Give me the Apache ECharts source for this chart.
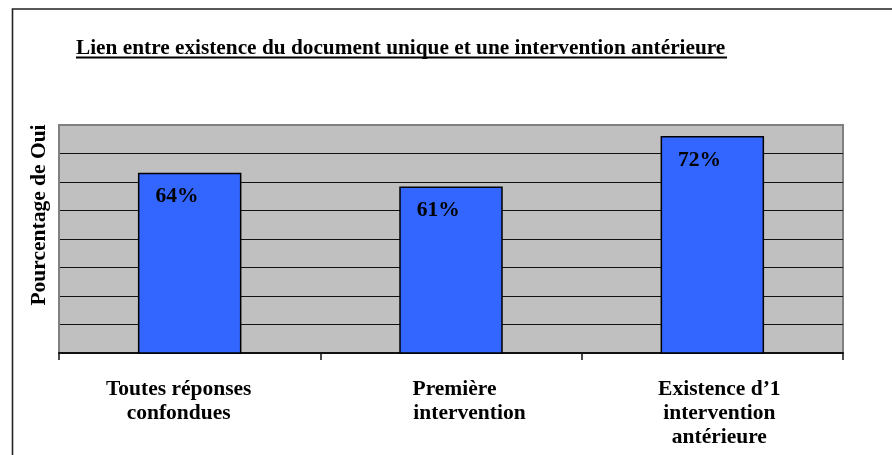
<!DOCTYPE html>
<html>
<head>
<meta charset="utf-8">
<script src="https://cdn.jsdelivr.net/npm/echarts@6/dist/echarts.min.js"></script>
<style>
  html, body { margin: 0; padding: 0; background: #fff; }
  #chart { width: 892px; height: 455px; }
</style>
</head>
<body>
<div id="chart"></div>
<script>
// Chart data
const categories = [
  'Toutes réponses\nconfondues',
  'Première\nintervention',
  'Existence d’1\nintervention\nantérieure'
];
const valuesPct = [64, 61, 72];
const titleText = 'Lien entre existence du document unique et une intervention antérieure';
const yAxisTitle = 'Pourcentage de Oui';

const serif = '"Times New Roman", "Liberation Serif", "DejaVu Serif", serif';
const labelFont = { fontFamily: serif, fontWeight: 'bold', fontSize: 21.5, color: '#000', lineHeight: 24 };

// Per-category rich layout for the wrapped x labels
const labelRich = {
  c0: Object.assign({}, labelFont, { padding: [0, 22, 0, 0] }),
  c1a: Object.assign({}, labelFont, { padding: [0, 30, 0, 37] }),
  c1b: Object.assign({}, labelFont, { padding: [0, 0, 0, 37] }),
  c2: Object.assign({}, labelFont, { padding: [0, 0, 0, 14] })
};

function formatCategory(value, index) {
  const lines = value.split('\n');
  if (index === 0) return lines.map(l => '{c0|' + l + '}').join('\n');
  if (index === 1) return '{c1a|' + lines[0] + '}\n{c1b|' + lines[1] + '}';
  return lines.map(l => '{c2|' + l + '}').join('\n');
}

const chart = echarts.init(document.getElementById('chart'), null, { renderer: 'canvas' });

chart.setOption({
  animation: false,
  backgroundColor: '#fff',
  title: {
    text: titleText,
    left: 76,
    top: 37.5,
    padding: 0,
    textStyle: { fontFamily: serif, fontWeight: 'bold', fontSize: 21.3, color: '#000' }
  },
  graphic: [
    {
      type: 'rect',
      silent: true,
      shape: { x: 12.5, y: 9, width: 1000, height: 1000 },
      style: { fill: 'none', stroke: '#222', lineWidth: 1.6 }
    },
    {
      type: 'line',
      silent: true,
      shape: { x1: 76, y1: 57.5, x2: 727, y2: 57.5 },
      style: { stroke: '#000', lineWidth: 2 }
    }
  ],
  grid: {
    left: 59,
    right: 49,
    top: 125,
    bottom: 102,
    show: true,
    backgroundColor: '#C0C0C0',
    borderColor: '#808080',
    borderWidth: 2
  },
  xAxis: {
    type: 'category',
    data: categories,
    axisLine: { show: true, lineStyle: { color: '#111', width: 2 } },
    axisTick: { show: true, length: 7, alignWithLabel: false, lineStyle: { color: '#111', width: 1.5 } },
    axisLabel: {
      interval: 0,
      margin: 24,
      formatter: formatCategory,
      rich: labelRich
    },
    splitLine: { show: false }
  },
  yAxis: {
    type: 'value',
    min: 24.8,
    max: 74.4,
    interval: 6.2,
    name: yAxisTitle,
    nameLocation: 'middle',
    nameRotate: 90,
    nameGap: 9,
    nameTextStyle: {
      fontFamily: serif, fontWeight: 'bold', fontSize: 21.5, color: '#000',
      padding: [0, 0, 0, 48]
    },
    axisLine: { show: true, lineStyle: { color: '#808080', width: 2 } },
    axisTick: { show: false },
    axisLabel: { show: false },
    splitLine: {
      show: true,
      showMinLine: false,
      showMaxLine: false,
      lineStyle: { color: '#111', width: 1 }
    }
  },
  series: [
    {
      type: 'bar',
      data: valuesPct,
      barWidth: 103.5,
      itemStyle: { color: '#3366FF', borderColor: '#000', borderWidth: 1.5 },
      label: {
        show: true,
        position: [39, 24],
        align: 'center',
        verticalAlign: 'middle',
        formatter: p => p.value + '%',
        fontFamily: serif,
        fontWeight: 'bold',
        fontSize: 21.5,
        color: '#000'
      }
    }
  ]
});
</script>
</body>
</html>
